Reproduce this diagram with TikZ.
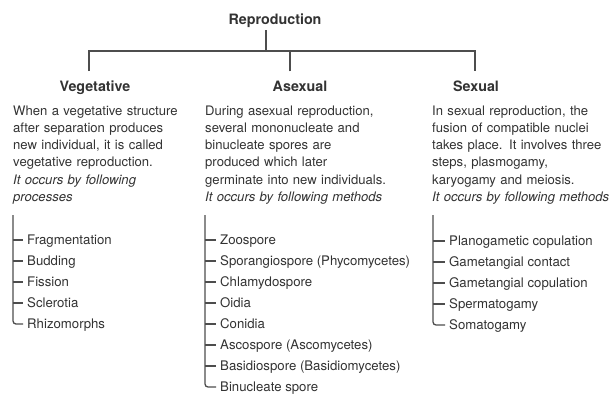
\documentclass[tikz,border=0pt]{standalone}
\usepackage{fontspec}
\setmainfont{TeX Gyre Heros}
\usetikzlibrary{positioning}

\definecolor{inkgray}{HTML}{333333}
\definecolor{linegray}{HTML}{4D4D4D}

\begin{document}
\begin{tikzpicture}[x=1pt,y=-1pt,
    title/.style={font=\fontsize{14.3}{17}\selectfont\bfseries,text=inkgray,inner sep=0pt,anchor=base},
    body/.style={font=\fontsize{13.1}{17.3}\selectfont,text=inkgray,inner sep=0pt,anchor=base west,text width=215pt,align=left},
    item/.style={font=\fontsize{13.2}{16}\selectfont,text=inkgray,inner xsep=4pt,inner ysep=0pt,text height=8pt,text depth=0pt,anchor=base west},
    tree/.style={linegray,line width=1.5pt},
    bracket/.style={linegray,line width=1.3pt,rounded corners=3pt}]
    \fill[white] (0,0) rectangle (610,396);
    \useasboundingbox (0,0) rectangle (610,396);

    % Tree of the three kinds
    \node[title] (repro) at (275,25) {Reproduction};
    \coordinate (hub) at (266,51);
    \node[title] (veg) at (95,91) {Vegetative};
    \node[title] (asex) at (300,91) {Asexual};
    \node[title] (sex) at (476,91) {Sexual};
    \draw[tree] ([yshift=-2pt]repro.south -| hub) -- (hub);
    \draw[tree] ([xshift=-6pt,yshift=9pt]veg.north) |- (hub) -| ([xshift=-1pt,yshift=9pt]sex.north);
    \draw[tree] ([xshift=-10pt,yshift=9pt]asex.north) -- ([xshift=-10pt]asex.north |- hub);

    % Descriptions
    \node[body] (vegtxt) at (13,115) {When a vegetative structure\\
        after separation produces\\
        new individual, it is called\\
        vegetative reproduction.\\
        \textit{It occurs by following}\\
        \textit{processes}};
    \node[body] (asextxt) at (205,115) {During asexual reproduction,\\
        several mononucleate and\\
        binucleate spores are\\
        produced which later\\
        germinate into new individuals.\\
        \textit{It occurs by following methods}};
    \node[body] (sextxt) at (432,115) {In sexual reproduction, the\\
        fusion of compatible nuclei\\
        takes place. It involves three\\
        steps, plasmogamy,\\
        karyogamy and meiosis.\\
        \textit{It occurs by following methods}};

    % Vegetative processes
    \coordinate (vegtop) at (13,215);
    \foreach \name [count=\i] in {Fragmentation,Budding,Fission,Sclerotia,Rhizomorphs}
        \node[item] (veg\i) at (23,223+21*\i) {\name};
    \foreach \i in {1,...,4}
        \draw[bracket] (veg\i.west -| vegtop) -- (veg\i.west);
    \draw[bracket] (vegtop) |- (veg5.west);

    % Asexual methods
    \coordinate (asextop) at (205,215);
    \foreach \name [count=\i] in {Zoospore,Sporangiospore (Phycomycetes),Chlamydospore,Oidia,Conidia,Ascospore (Ascomycetes),Basidiospore (Basidiomycetes),Binucleate spore}
        \node[item] (asex\i) at (216,223+21*\i) {\name};
    \foreach \i in {1,...,7}
        \draw[bracket] (asex\i.west -| asextop) -- (asex\i.west);
    \draw[bracket] (asextop) |- (asex8.west);

    % Sexual methods
    \coordinate (sextop) at (433,215);
    \foreach \name [count=\i] in {Planogametic copulation,Gametangial contact,Gametangial copulation,Spermatogamy,Somatogamy}
        \node[item] (sex\i) at (445,224+21*\i) {\name};
    \foreach \i in {1,...,4}
        \draw[bracket] (sex\i.west -| sextop) -- (sex\i.west);
    \draw[bracket] (sextop) |- (sex5.west);
\end{tikzpicture}
\end{document}
